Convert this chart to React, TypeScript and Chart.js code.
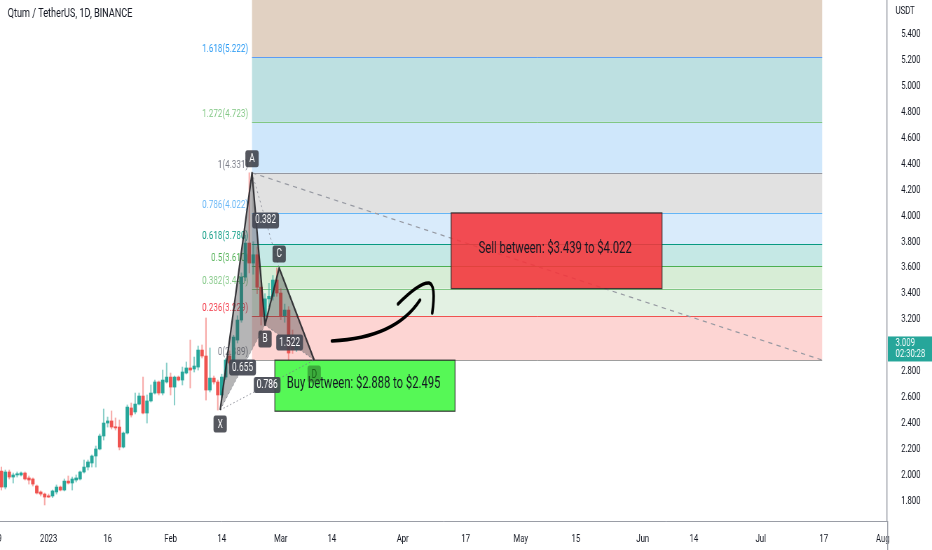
import React, { useEffect, useRef } from "react";
import { Chart, registerables } from "chart.js";

Chart.register(...registerables);

const TITLE = "Qtum / TetherUS, 1D, BINANCE";
const QUOTE = "USDT";
const LAST_PRICE_TEXT = "3.009";
const COUNTDOWN_TEXT = "02:30:28";
const LAST_PRICE = 3.009;

// days relative to 2023-01-01
const CANDLE_DAYS = [
  -12, -11, -10, -9, -8, -7, -6, -5, -4, -3, -2, -1, 0, 1, 2, 3, 4, 5, 6, 7,
  8, 9, 10, 11, 12, 13, 14, 15, 16, 17, 18, 19, 20, 21, 22, 23, 24, 25, 26, 27,
  28, 29, 30, 31, 32, 33, 34, 35, 36, 37, 38, 39, 40, 41, 42, 43, 44, 45, 46, 47,
  48, 49, 50, 51, 52, 53, 54, 55, 56, 57, 58, 59, 60, 61, 62, 63,
];
const OPEN = [
  2.034, 1.911, 2.027, 1.988, 2.004, 2.004, 2.019, 1.981, 1.973, 1.919, 1.873, 1.857, 1.842, 1.842, 1.873, 1.911, 1.888, 1.957, 1.942, 1.965,
  1.973, 2.027, 2.065, 2.096, 2.15, 2.204, 2.304, 2.404, 2.42, 2.373, 2.373, 2.219, 2.327, 2.52, 2.489, 2.55, 2.612, 2.481, 2.574, 2.635,
  2.72, 2.635, 2.72, 2.758, 2.681, 2.758, 2.735, 2.789, 2.828, 2.82, 2.835, 2.966, 2.92, 2.658, 2.75, 2.72, 2.62, 2.758, 2.92, 2.866,
  3.043, 3.197, 3.528, 3.79, 3.636, 3.7, 3.45, 3.23, 3.36, 3.38, 3.505, 3.405, 3.23, 3.274, 2.99, 2.97,
];
const HIGH = [
  2.065, 2.042, 2.042, 2.019, 2.027, 2.027, 2.027, 1.996, 1.981, 1.927, 1.881, 1.865, 1.857, 1.888, 1.927, 1.919, 1.973, 1.996, 1.988, 2.004,
  2.034, 2.119, 2.119, 2.158, 2.227, 2.319, 2.512, 2.45, 2.497, 2.443, 2.427, 2.335, 2.543, 2.558, 2.635, 2.635, 2.758, 2.62, 2.697, 2.735,
  2.728, 2.812, 2.866, 2.789, 2.766, 2.766, 2.835, 2.874, 3.043, 2.912, 2.997, 3.005, 3.213, 2.982, 2.766, 2.735, 2.78, 2.9, 2.96, 3.08,
  3.23, 3.56, 3.85, 4.331, 3.8, 3.76, 3.5, 3.4, 3.48, 3.54, 3.598, 3.44, 3.32, 3.3, 3.12, 3.05,
];
const LOW = [
  1.888, 1.896, 1.973, 1.942, 1.988, 1.996, 1.965, 1.934, 1.919, 1.857, 1.842, 1.773, 1.83, 1.83, 1.857, 1.881, 1.881, 1.934, 1.888, 1.95,
  1.965, 2.019, 2.042, 2.065, 2.065, 2.197, 2.273, 2.373, 2.358, 2.35, 2.197, 2.212, 2.319, 2.45, 2.474, 2.543, 2.474, 2.404, 2.566, 2.627,
  2.62, 2.62, 2.712, 2.62, 2.543, 2.728, 2.697, 2.782, 2.674, 2.797, 2.812, 2.905, 2.581, 2.643, 2.704, 2.504, 2.6, 2.74, 2.85, 2.85,
  3.02, 3.18, 3.5, 3.56, 3.55, 3.4, 3.159, 3.19, 3.3, 3.35, 3.38, 3.2, 3.18, 2.889, 2.94, 2.955,
];
const CLOSE = [
  1.911, 2.027, 1.988, 2.004, 2.011, 2.019, 1.973, 1.965, 1.934, 1.865, 1.857, 1.834, 1.834, 1.881, 1.911, 1.888, 1.957, 1.942, 1.973, 1.981,
  2.027, 2.065, 2.104, 2.15, 2.204, 2.304, 2.404, 2.42, 2.373, 2.366, 2.219, 2.327, 2.527, 2.466, 2.55, 2.612, 2.481, 2.574, 2.635, 2.72,
  2.635, 2.735, 2.758, 2.681, 2.758, 2.735, 2.797, 2.828, 2.812, 2.843, 2.966, 2.92, 2.658, 2.75, 2.72, 2.62, 2.758, 2.889, 2.866, 3.066,
  3.197, 3.528, 3.79, 3.636, 3.7, 3.45, 3.23, 3.36, 3.38, 3.505, 3.405, 3.23, 3.274, 2.943, 2.97, 3.009,
];

const X_TICK_DAYS = [-13, 0, 15, 31, 44, 59, 72, 90, 106, 120, 134, 151, 164, 181, 197, 212];
const X_TICK_LABELS = ["19", "2023", "16", "Feb", "14", "Mar", "14", "Apr", "17", "May", "15", "Jun", "14", "Jul", "17", "Aug"];
const Y_TICKS = [1.8, 2.0, 2.2, 2.4, 2.6, 2.8, 3.2, 3.4, 3.6, 3.8, 4.0, 4.2, 4.4, 4.6, 4.8, 5.0, 5.2, 5.4];

const X_MIN = -12.35;
const X_MAX = 213.12;
const Y_MIN = 1.6495;
const Y_MAX = 5.6618;

// Fibonacci retracement
const FIB_LEVELS = [0, 0.236, 0.382, 0.5, 0.618, 0.786, 1, 1.272, 1.618, 2.618];
const FIB_PRICES = [2.889, 3.229, 3.44, 3.61, 3.78, 4.022, 4.331, 4.723, 5.222, 6.664];
const FIB_DAYS = [51.7, 196.6];
const FIB_FILLS = ["#fdd5d3", "#e3f1e3", "#d7edd6", "#c5e8e5", "#d9ebfb", "#e1e1e1", "#cfe7fb", "#bde0e1", "#e1d1c2"];
const FIB_LINES = ["#9e9e9e", "#ef5350", "#81c784", "#4caf50", "#089981", "#64b5f6", "#9598a1", "#81c784", "#5b9cf6"];
const FIB_TEXT = ["#787b86", "#f23645", "#81c784", "#4caf50", "#089981", "#64b5f6", "#787b86", "#81c784", "#2196f3"];

// XABCD pattern
const PATTERN_NAMES = ["X", "A", "B", "C", "D"];
const PATTERN_DAYS = [43.6, 51.7, 55.0, 58.6, 67.5];
const PATTERN_PRICES = [2.504, 4.331, 3.159, 3.598, 2.889];
const PATTERN_RATIO_LINKS = [[0, 2], [1, 3], [2, 4], [0, 4]];
const PATTERN_RATIOS = ["0.655", "0.382", "1.522", "0.786"];

// zones
const BUY_DAYS = [57.5, 103.3];
const BUY_PRICES = [2.495, 2.888];
const BUY_TEXT = "Buy between: $2.888 to $2.495";
const SELL_DAYS = [102.3, 155.9];
const SELL_PRICES = [3.439, 4.022];
const SELL_TEXT = "Sell between: $3.439 to $4.022";

// hand-drawn arrow (day, price)
const ARROW_MAIN = [[72.0, 3.036], [88.1, 3.059], [94.4, 3.351]];
const ARROW_HEAD = [[88.8, 3.321], [94.4, 3.49], [96.7, 3.482], [98.5, 3.467], [97.5, 3.251]];

const UP = "#26a69a";
const DOWN = "#ef5350";
const UP_WICK = "rgba(38,166,154,0.55)";
const DOWN_WICK = "rgba(239,83,80,0.5)";
const FONT = "Roboto, 'Noto Sans', sans-serif";

const overlay = {
  id: "overlay",
  beforeDatasetsDraw(chart: any) {
    const { ctx, chartArea, scales } = chart;
    const xs = scales.x, ys = scales.y;
    const x0 = xs.getPixelForValue(FIB_DAYS[0]);
    const x1 = xs.getPixelForValue(FIB_DAYS[1]);
    ctx.save();
    ctx.beginPath();
    ctx.rect(chartArea.left, chartArea.top, chartArea.right - chartArea.left, chartArea.bottom - chartArea.top);
    ctx.clip();
    for (let i = 0; i < FIB_PRICES.length - 1; i++) {
      const ya = ys.getPixelForValue(FIB_PRICES[i]);
      const yb = ys.getPixelForValue(FIB_PRICES[i + 1]);
      ctx.fillStyle = FIB_FILLS[i];
      ctx.fillRect(x0, yb, x1 - x0, ya - yb);
    }
    for (let i = 0; i < FIB_PRICES.length - 1; i++) {
      const yy = Math.round(ys.getPixelForValue(FIB_PRICES[i])) + 0.5;
      ctx.strokeStyle = FIB_LINES[i];
      ctx.lineWidth = 1;
      ctx.beginPath();
      ctx.moveTo(x0, yy);
      ctx.lineTo(x1, yy);
      ctx.stroke();
    }
    // trend line
    ctx.strokeStyle = "#9598a1";
    ctx.lineWidth = 1.2;
    ctx.setLineDash([6, 6]);
    ctx.beginPath();
    ctx.moveTo(x0, ys.getPixelForValue(FIB_PRICES[6]));
    ctx.lineTo(x1, ys.getPixelForValue(FIB_PRICES[0]));
    ctx.stroke();
    ctx.setLineDash([]);
    // labels
    ctx.font = `11.5px ${FONT}`;
    ctx.textAlign = "right";
    ctx.textBaseline = "alphabetic";
    for (let i = 0; i < FIB_PRICES.length - 1; i++) {
      const yy = ys.getPixelForValue(FIB_PRICES[i]);
      ctx.fillStyle = FIB_TEXT[i];
      ctx.fillText(`${FIB_LEVELS[i]}(${FIB_PRICES[i].toFixed(3)})`, x0 - 5.5, yy - 5);
    }
    ctx.restore();
  },
  afterDatasetsDraw(chart: any) {
    const { ctx, chartArea, scales } = chart;
    const xs = scales.x, ys = scales.y;
    const px = (d: number) => xs.getPixelForValue(d);
    const py = (p: number) => ys.getPixelForValue(p);
    ctx.save();
    ctx.beginPath();
    ctx.rect(chartArea.left, chartArea.top, chartArea.right - chartArea.left, chartArea.bottom - chartArea.top);
    ctx.clip();

    const box = (days: number[], prices: number[], fill: string, text: string) => {
      const l = px(days[0]), r = px(days[1]);
      const t = py(prices[1]), b = py(prices[0]);
      ctx.fillStyle = fill;
      ctx.fillRect(l, t, r - l, b - t);
      ctx.strokeStyle = "rgba(40,40,40,0.85)";
      ctx.lineWidth = 1.3;
      ctx.strokeRect(l, t, r - l, b - t);
      ctx.fillStyle = "#131722";
      ctx.font = `16px ${FONT}`;
      ctx.textAlign = "center";
      ctx.textBaseline = "middle";
      ctx.fillText(text, (l + r) / 2 - 2, (t + b) / 2 - 2);
    };
    box(BUY_DAYS, BUY_PRICES, "rgba(30,245,30,0.75)", BUY_TEXT);
    box(SELL_DAYS, SELL_PRICES, "rgba(245,52,58,0.88)", SELL_TEXT);

    const P = PATTERN_DAYS.map((d, i) => [px(d), py(PATTERN_PRICES[i])]);
    // triangles
    ctx.fillStyle = "rgba(60,60,64,0.38)";
    for (const tri of [[0, 1, 2], [2, 3, 4]]) {
      ctx.beginPath();
      ctx.moveTo(P[tri[0]][0], P[tri[0]][1]);
      ctx.lineTo(P[tri[1]][0], P[tri[1]][1]);
      ctx.lineTo(P[tri[2]][0], P[tri[2]][1]);
      ctx.closePath();
      ctx.fill();
    }
    // dotted ratio lines
    ctx.strokeStyle = "rgba(120,123,134,0.8)";
    ctx.lineWidth = 1;
    ctx.setLineDash([2, 3]);
    for (const [a, b] of PATTERN_RATIO_LINKS) {
      ctx.beginPath();
      ctx.moveTo(P[a][0], P[a][1]);
      ctx.lineTo(P[b][0], P[b][1]);
      ctx.stroke();
    }
    ctx.setLineDash([]);
    // legs
    ctx.strokeStyle = "rgba(35,35,40,0.9)";
    ctx.lineWidth = 2.2;
    ctx.lineJoin = "round";
    ctx.beginPath();
    ctx.moveTo(P[0][0], P[0][1]);
    for (let i = 1; i < P.length; i++) ctx.lineTo(P[i][0], P[i][1]);
    ctx.stroke();

    // arrow
    ctx.strokeStyle = "#000";
    ctx.lineWidth = 3.6;
    ctx.lineCap = "round";
    ctx.beginPath();
    ctx.moveTo(px(ARROW_MAIN[0][0]), py(ARROW_MAIN[0][1]));
    ctx.quadraticCurveTo(px(ARROW_MAIN[1][0]), py(ARROW_MAIN[1][1]), px(ARROW_MAIN[2][0]), py(ARROW_MAIN[2][1]));
    ctx.stroke();
    ctx.beginPath();
    ctx.moveTo(px(ARROW_HEAD[0][0]), py(ARROW_HEAD[0][1]));
    ctx.quadraticCurveTo(px(ARROW_HEAD[1][0]), py(ARROW_HEAD[1][1]), px(ARROW_HEAD[2][0]), py(ARROW_HEAD[2][1]));
    ctx.quadraticCurveTo(px(ARROW_HEAD[3][0]), py(ARROW_HEAD[3][1]), px(ARROW_HEAD[4][0]), py(ARROW_HEAD[4][1]));
    ctx.stroke();
    ctx.lineCap = "butt";

    const roundRect = (x: number, y: number, w: number, h: number, r: number) => {
      ctx.beginPath();
      ctx.moveTo(x + r, y);
      ctx.lineTo(x + w - r, y);
      ctx.quadraticCurveTo(x + w, y, x + w, y + r);
      ctx.lineTo(x + w, y + h - r);
      ctx.quadraticCurveTo(x + w, y + h, x + w - r, y + h);
      ctx.lineTo(x + r, y + h);
      ctx.quadraticCurveTo(x, y + h, x, y + h - r);
      ctx.lineTo(x, y + r);
      ctx.quadraticCurveTo(x, y, x + r, y);
      ctx.closePath();
    };

    ctx.font = `12px ${FONT}`;
    ctx.textAlign = "center";
    ctx.textBaseline = "middle";
    // ratio labels
    PATTERN_RATIO_LINKS.forEach(([a, b], i) => {
      const mx = (P[a][0] + P[b][0]) / 2;
      const my = (P[a][1] + P[b][1]) / 2;
      const w = ctx.measureText(PATTERN_RATIOS[i]).width + 8;
      ctx.fillStyle = "rgba(67,70,81,0.92)";
      roundRect(mx - w / 2, my - 8, w, 16, 3);
      ctx.fill();
      ctx.fillStyle = "#ffffff";
      ctx.fillText(PATTERN_RATIOS[i], mx, my);
    });
    // point badges
    PATTERN_NAMES.forEach((name, i) => {
      const isHigh = i === 1 || i === 3;
      const cx = P[i][0];
      const cy = P[i][1] + (isHigh ? -14 : 14);
      ctx.fillStyle = i === 4 ? "rgba(40,110,40,0.55)" : "rgba(55,58,66,0.85)";
      roundRect(cx - 9.5, cy - 8.5, 19, 17, 3);
      ctx.fill();
      ctx.fillStyle = i === 4 ? "rgba(20,90,20,0.9)" : "#ffffff";
      ctx.fillText(name, cx, cy + 0.5);
    });
    ctx.restore();
  },
  afterDraw(chart: any) {
    const { ctx, chartArea, scales } = chart;
    const ys = scales.y;
    ctx.save();
    // price scale border extension
    ctx.strokeStyle = "#9a9da6";
    ctx.lineWidth = 1.4;
    ctx.beginPath();
    ctx.moveTo(chartArea.right + 0.7, chartArea.bottom);
    ctx.lineTo(chartArea.right + 0.7, chart.height);
    ctx.stroke();
    // title
    ctx.fillStyle = "#131722";
    ctx.font = `13px ${FONT}`;
    ctx.textAlign = "left";
    ctx.textBaseline = "middle";
    ctx.fillText(TITLE, 11, 14);
    // quote currency
    ctx.font = `11px ${FONT}`;
    ctx.fillText(QUOTE, chartArea.right + 12, 11);
    // last price label
    const yy = ys.getPixelForValue(LAST_PRICE);
    ctx.fillStyle = "#26a69a";
    ctx.fillRect(chartArea.right + 1, yy - 8, chart.width - chartArea.right - 1, 25);
    ctx.fillStyle = "#ffffff";
    ctx.fillText(LAST_PRICE_TEXT, chartArea.right + 12, yy - 1);
    ctx.fillText(COUNTDOWN_TEXT, chartArea.right + 12, yy + 10);
    ctx.restore();
  },
};

export default function App() {
  const ref = useRef<HTMLCanvasElement>(null);
  useEffect(() => {
    const canvas = ref.current;
    if (!canvas) return;
    const up = CANDLE_DAYS.map((_, i) => CLOSE[i] >= OPEN[i]);
    const bodies = CANDLE_DAYS.map((d, i) => ({ x: d, y: [OPEN[i], CLOSE[i]] }));
    const wicks = CANDLE_DAYS.map((d, i) => ({ x: d, y: [LOW[i], HIGH[i]] }));
    const chart = new Chart(canvas, {
      type: "bar",
      data: {
        datasets: [
          {
            data: bodies as any,
            backgroundColor: up.map((u) => (u ? UP : DOWN)),
            barThickness: 4.2,
            grouped: false,
            minBarLength: 1.2,
            borderWidth: 0,
          } as any,
          {
            data: wicks as any,
            backgroundColor: up.map((u) => (u ? UP_WICK : DOWN_WICK)),
            barThickness: 1.4,
            grouped: false,
            borderWidth: 0,
          } as any,
        ],
      },
      options: {
        responsive: false,
        animation: false,
        devicePixelRatio: 1,
        events: [],
        layout: { padding: 0 },
        plugins: { legend: { display: false }, tooltip: { enabled: false }, title: { display: false } },
        scales: {
          x: {
            type: "linear",
            min: X_MIN,
            max: X_MAX,
            offset: false,
            grid: { display: false },
            border: { display: true, color: "#9a9da6", width: 1 },
            ticks: {
              autoSkip: false,
              maxRotation: 0,
              minRotation: 0,
              padding: 4,
              color: "#131722",
              font: { family: FONT, size: 11 },
              callback: (v: any) => {
                const i = X_TICK_DAYS.indexOf(Number(v));
                return i >= 0 ? X_TICK_LABELS[i] : "";
              },
            },
            afterBuildTicks: (s: any) => {
              s.ticks = X_TICK_DAYS.map((v) => ({ value: v }));
            },
            afterFit: (s: any) => {
              s.height = 29;
              s.paddingLeft = 0;
              s.paddingRight = 0;
            },
          },
          y: {
            type: "linear",
            position: "right",
            min: Y_MIN,
            max: Y_MAX,
            grid: { display: false },
            border: { display: true, color: "#9a9da6", width: 1.4 },
            ticks: {
              padding: 12,
              color: "#131722",
              font: { family: FONT, size: 11 },
              callback: (v: any) => Number(v).toFixed(3),
            },
            afterBuildTicks: (s: any) => {
              s.ticks = Y_TICKS.map((v) => ({ value: v }));
            },
            afterFit: (s: any) => {
              s.width = 64;
              s.paddingTop = 0;
              s.paddingBottom = 0;
            },
          },
        },
      } as any,
      plugins: [overlay],
    });
    return () => chart.destroy();
  }, []);
  return (
    <div style={{ position: "fixed", left: 0, top: 0, width: 932, height: 550, background: "#ffffff" }}>
      <canvas ref={ref} width={1330} height={550} style={{ width: "932px", height: "550px", display: "block" }} />
    </div>
  );
}
